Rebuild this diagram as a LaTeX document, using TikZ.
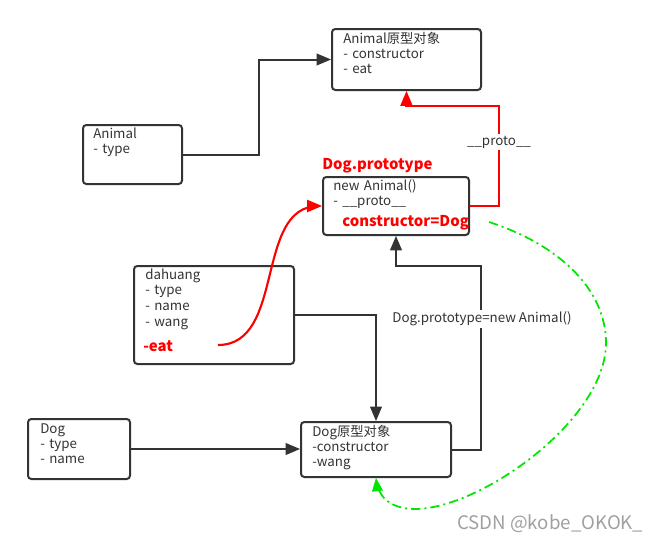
\documentclass[tikz,border=0pt]{standalone}
\usepackage{fontspec}
\setmainfont{Noto Sans CJK SC}
\usetikzlibrary{arrows,fit,positioning}
\definecolor{linegray}{HTML}{333333}
\definecolor{txtgray}{HTML}{333333}
\definecolor{dashgreen}{HTML}{00E600}
\definecolor{markgray}{HTML}{A0A0A0}
\tikzset{>=triangle 45,
         obj/.style={draw=linegray, line width=1.5pt, rounded corners=2.5pt, inner sep=0pt},
         txt/.style={anchor=base west, inner sep=0pt, text width=150pt, align=left,
                     font=\fontsize{10}{11.6}\selectfont, text=txtgray},
         redtxt/.style={anchor=base west, inner sep=0pt,
                        font=\fontsize{11.2}{12}\selectfont\bfseries, text=red},
         tag/.style={fill=white, inner sep=1.5pt, font=\fontsize{10}{11}\selectfont, text=txtgray},
         link/.style={->, draw=linegray, line width=1.5pt},
         redlink/.style={->, draw=red, line width=1.6pt},
         greenlink/.style={->, draw=dashgreen, line width=1.3pt,
                           dash pattern=on 7pt off 3pt on 1.5pt off 3pt}}

\begin{document}
\begin{tikzpicture}[x=0.75pt, y=-0.75pt]
  \useasboundingbox (0,0) rectangle (661,543);
  % boxes
  \node[obj, fit={(332,29) (481,90)}] (animalproto) {};
  \node[obj, fit={(83,125) (182,184)}] (animal) {};
  \node[obj, fit={(323,177) (469,235)}] (dogproto) {};
  \node[obj, fit={(134,266) (294,364)}] (dahuang) {};
  \node[obj, fit={(28,419) (130,479)}] (dog) {};
  \node[obj, fit={(301,422) (451,477)}] (dogobj) {};
  % texts
  \node[txt] (animalproto-t) at (343,43) {Animal原型对象\\- constructor\\- eat};
  \node[txt] (animal-t) at (93,138) {Animal\\- type};
  \node[redtxt] (dogproto-name) at (322,169) {Dog.prototype};
  \node[txt] (dogproto-t) at (333,190) {new Animal()\\- \_\_proto\_\_};
  \node[redtxt] (dogproto-c) at (342,226) {constructor=Dog};
  \node[txt, font=\fontsize{10}{11.9}\selectfont] (dahuang-t) at (145,279) {dahuang\\- type\\- name\\- wang};
  \node[redtxt] (dahuang-eat) at (143,351) {-eat};
  \node[txt] (dog-t) at (40,433) {Dog\\- type\\- name};
  \node[txt] (dogobj-t) at (312,436) {Dog原型对象\\-constructor\\-wang};
  % connectors
  \coordinate (k1) at (259,100);
  \coordinate (k2) at (499,106);
  \coordinate (k3) at (481,266);
  \coordinate (eatend) at (218,345);
  \coordinate (gstart) at (489,222);
  \draw[link] (animal.east) -- (animal.east -| k1) |- (animalproto.west);
  \draw[redlink] (dogproto.east) -| (k2) -| (animalproto.south);
  \node[tag] (protolbl) at (499,142) {\_\_proto\_\_};
  \draw[link] (dahuang.east) -| (dogobj.north);
  \draw[link] (dog.east) -- (dog.east -| dogobj.west);
  \draw[link] (dogobj.east) -| (k3) -| (dogproto.south);
  \node[tag] (newlbl) at (482,319) {Dog.prototype=new Animal()};
  \draw[redlink] (eatend) to[out=0, in=180] (dogproto.west);
  \draw[greenlink] (gstart) .. controls (560,245) and (606,290) .. (606,343)
    .. controls (606,420) and (480,509) .. (415,509)
    .. controls (390,509) and (378,496) .. (dogobj.south);
  % watermark
  \node[anchor=base west, inner sep=0pt, font=\fontsize{14}{15}\selectfont, text=markgray]
    (mark) at (457,529) {CSDN @kobe\_OKOK\_};
\end{tikzpicture}
\end{document}
